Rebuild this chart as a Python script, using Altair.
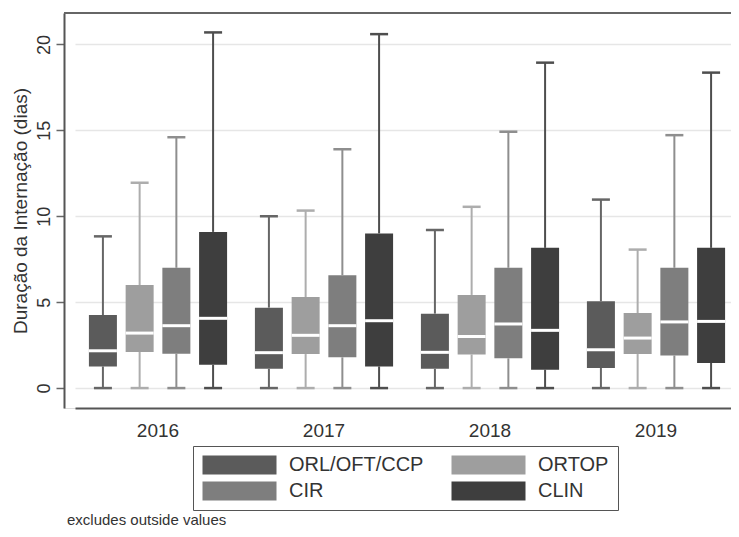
import altair as alt
import pandas as pd

YEARS = ["2016", "2017", "2018", "2019"]
GROUPS = ["ORL/OFT/CCP", "ORTOP", "CIR", "CLIN"]
LEGEND_ORDER = ["ORL/OFT/CCP", "CIR", "ORTOP", "CLIN"]
COLORS = ["#5b5b5b", "#9e9e9e", "#7e7e7e", "#3e3e3e"]
WHISKER_COLORS = ["#666666", "#adadad", "#8e8e8e", "#4e4e4e"]

# per year, values in GROUPS order
LOW = {
    "2016": [0, 0, 0, 0],
    "2017": [0, 0, 0, 0],
    "2018": [0, 0, 0, 0],
    "2019": [0, 0, 0, 0],
}
Q1 = {
    "2016": [1.26, 2.10, 2.00, 1.36],
    "2017": [1.12, 1.98, 1.79, 1.26],
    "2018": [1.12, 1.96, 1.73, 1.07],
    "2019": [1.17, 1.98, 1.90, 1.46],
}
MEDIAN = {
    "2016": [2.17, 3.20, 3.63, 4.06],
    "2017": [2.06, 3.07, 3.63, 3.92],
    "2018": [2.08, 3.00, 3.73, 3.36],
    "2019": [2.23, 2.91, 3.85, 3.88],
}
Q3 = {
    "2016": [4.25, 6.00, 7.00, 9.09],
    "2017": [4.68, 5.30, 6.56, 9.00],
    "2018": [4.33, 5.42, 7.00, 8.16],
    "2019": [5.05, 4.37, 7.00, 8.16],
}
HIGH = {
    "2016": [8.83, 11.95, 14.60, 20.70],
    "2017": [10.00, 10.33, 13.90, 20.60],
    "2018": [9.20, 10.55, 14.92, 18.94],
    "2019": [10.97, 8.06, 14.72, 18.36],
}
Y_TICKS = [0, 5, 10, 15, 20]
Y_TITLE = "Duração da Internação (dias)"
NOTE = "excludes outside values"

rows = []
for y in YEARS:
    for i, g in enumerate(GROUPS):
        rows.append(dict(year=y, group=g, wgroup=g, lo=LOW[y][i], q1=Q1[y][i],
                         med=MEDIAN[y][i], q3=Q3[y][i], hi=HIGH[y][i]))
df = pd.DataFrame(rows)

FONT = "Liberation Sans"
W, H = 667, 395

x_enc = alt.X(
    "year:N",
    sort=YEARS,
    scale=alt.Scale(range=[11, 675], paddingInner=0, paddingOuter=0),
    axis=alt.Axis(title=None, ticks=False, tickSize=0, labelPadding=13,
                  labelFontSize=19, labelColor="#333", labelFont=FONT,
                  domainColor="#555", domainWidth=2, labelAngle=0, grid=False),
)
xo_enc = alt.XOffset("group:N", sort=GROUPS,
                     scale=alt.Scale(domain=GROUPS, paddingOuter=0.26, paddingInner=0))
y_scale = alt.Scale(domain=[-1.16, 21.83], nice=False, zero=False)
color_scale = alt.Scale(domain=GROUPS, range=COLORS)
wscale = alt.Scale(domain=GROUPS, range=WHISKER_COLORS)

LEGEND = alt.Legend(
    title=None, orient="none", legendX=129, legendY=433, columns=2,
    values=LEGEND_ORDER,
    symbolType="M-1,-1H6.79V1H-1Z", symbolSize=361, symbolStrokeWidth=0,
    symbolOpacity=1, labelOffset=67, labelFontSize=20, labelFont=FONT,
    labelColor="#333", labelLimit=300, columnPadding=27, rowPadding=6,
    padding=9, strokeColor="#555", fillColor="white",
)
Y_AXIS = alt.Axis(values=Y_TICKS, title=Y_TITLE, titleFontSize=19,
                  titleFont=FONT, titleColor="#333", titleFontWeight="normal",
                  titleX=-43.5, titleBaseline="middle", titleAngle=270,
                  labelAngle=270, labelAlign="center", labelBaseline="bottom",
                  labelFontSize=18, labelFont=FONT, labelColor="#333",
                  labelPadding=3, tickSize=8, tickColor="#666", tickWidth=1.5,
                  domainColor="#555", domainWidth=2,
                  grid=True, gridColor="#e6e6e6", gridWidth=1.5)

base = alt.Chart(df)

box = base.mark_bar(size=28).encode(
    x=x_enc, xOffset=xo_enc,
    y=alt.Y("q1:Q", scale=y_scale, axis=Y_AXIS),
    y2="q3:Q",
    color=alt.Color("group:N", scale=color_scale, sort=GROUPS, legend=LEGEND),
)

w_stroke = alt.Stroke("wgroup:N", scale=wscale, legend=None)
whisker_lo = base.mark_rule(strokeWidth=2).encode(
    x=x_enc, xOffset=xo_enc,
    y=alt.Y("lo:Q", scale=y_scale), y2="q1:Q", stroke=w_stroke,
)
whisker_hi = base.mark_rule(strokeWidth=2).encode(
    x=x_enc, xOffset=xo_enc,
    y=alt.Y("q3:Q", scale=y_scale), y2="hi:Q", stroke=w_stroke,
)

median = base.mark_tick(size=28, thickness=3, color="white", opacity=1).encode(
    x=x_enc, xOffset=xo_enc, y=alt.Y("med:Q", scale=y_scale),
)

w_fill = alt.Fill("wgroup:N", scale=wscale, legend=None)
cap_lo = base.mark_tick(size=18, thickness=2.5, opacity=1).encode(
    x=x_enc, xOffset=xo_enc, y=alt.Y("lo:Q", scale=y_scale), fill=w_fill,
)
cap_hi = base.mark_tick(size=18, thickness=2.5, opacity=1).encode(
    x=x_enc, xOffset=xo_enc, y=alt.Y("hi:Q", scale=y_scale), fill=w_fill,
)

top_line = alt.Chart(pd.DataFrame({"k": [0]})).mark_rule(
    color="#666", strokeWidth=2).encode(
    x=alt.value(0), x2=alt.value(W), y=alt.value(0))

note = alt.Chart(pd.DataFrame({"t": [NOTE]})).mark_text(
    align="left", baseline="alphabetic", fontSize=15, font=FONT, color="#333",
).encode(text="t:N", x=alt.value(3), y=alt.value(512))

chart = alt.layer(box, whisker_lo, whisker_hi, median, cap_lo, cap_hi,
                  top_line, note).properties(
    width=W, height=H,
    autosize=alt.AutoSizeParams(type="none"),
    padding={"left": 56, "top": 5, "right": 0, "bottom": 121},
).configure_view(stroke=None).configure(font=FONT)

chart.save("out.html", embed_options={"renderer": "svg", "actions": False})
